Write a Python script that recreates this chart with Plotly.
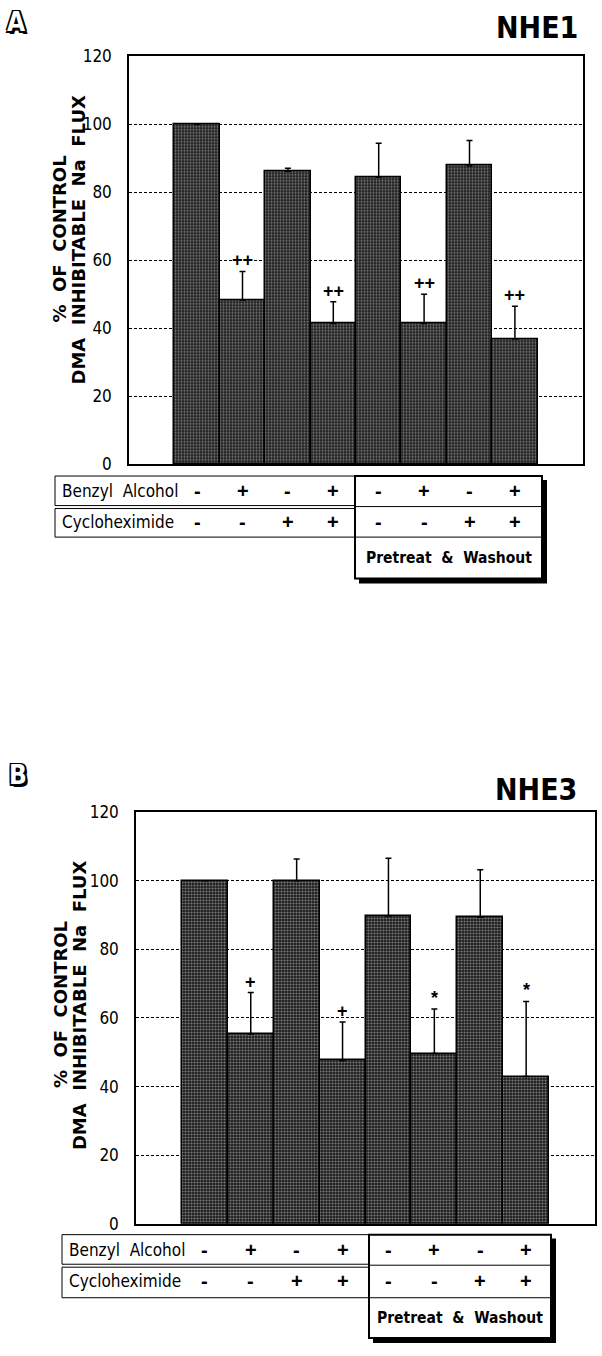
import plotly.graph_objects as go

# ---------------- data ----------------
conditions = [1, 2, 3, 4, 5, 6, 7, 8]
benzyl_alcohol = ["-", "+", "-", "+", "-", "+", "-", "+"]
cycloheximide = ["-", "-", "+", "+", "-", "-", "+", "+"]

nhe1_values = [100, 48.3, 86.2, 41.4, 84.4, 41.4, 87.8, 36.8]
nhe1_err = [0, 8.4, 0.9, 6.4, 10.0, 8.6, 7.4, 9.7]
nhe1_sig = ["", "++", "", "++", "", "++", "", "++"]

nhe3_values = [100, 55.3, 100, 47.6, 89.7, 49.6, 89.3, 42.9]
nhe3_err = [0, 12.1, 6.3, 11.2, 16.8, 13.0, 13.9, 21.9]
nhe3_sig = ["", "+", "", "+", "", "*", "", "*"]

y_ticks = [0, 20, 40, 60, 80, 100, 120]
y_title_1 = "%\u00a0\u00a0OF\u00a0\u00a0CONTROL"
y_title_2 = "DMA\u00a0\u00a0INHIBITABLE\u00a0\u00a0Na\u00a0\u00a0FLUX"

# ---------------- layout helpers ----------------
W, H = 602, 1356
NARROW = "Liberation Sans Narrow, DejaVu Sans Condensed, Liberation Sans, Arial, sans-serif"
WIDE = "DejaVu Sans, Verdana, sans-serif"
OUTLINE = ("-1.5px -1.5px 0 #000, 1.5px -1.5px 0 #000, -1.5px 1.5px 0 #000, "
           "1.5px 1.5px 0 #000, 2.5px 2.5px 0 #000, 0 2px 0 #000, 2px 0 0 #000")


def px(x):
    return x / W


def py(y):
    return 1 - y / H


panels = [
    dict(name="NHE1", letter="A", values=nhe1_values, err=nhe1_err, sig=nhe1_sig,
         xa="x", ya="y", plot=(129, 583, 47, 461),
         table=dict(left=55, split=355, right=542, top=473, mid=504, bot=535, boxbot=577),
         title_y=233, letter_pos=(16, 12), name_pos=(580, 18)),
    dict(name="NHE3", letter="B", values=nhe3_values, err=nhe3_err, sig=nhe3_sig,
         xa="x2", ya="y2", plot=(136, 595, 814, 1232),
         table=dict(left=62, split=369, right=551, top=1243, mid=1274, bot=1307, boxbot=1348),
         title_y=1010, letter_pos=(18, 776), name_pos=(579, 791)),
]

fig = go.Figure()
shapes = []
annotations = []

for i, p in enumerate(panels):
    fig.add_trace(go.Bar(
        x=conditions, y=p["values"], width=1,
        xaxis=p["xa"], yaxis=p["ya"],
        marker=dict(color="#1e1e1e", line=dict(color="black", width=1.5),
                    pattern=dict(shape=".", fgcolor="#d8d8d8", size=3, solidity=0.38)),
        error_y=dict(type="data", array=p["err"], arrayminus=[0] * len(p["err"]),
                     symmetric=False, color="black", thickness=1.5, width=3),
        showlegend=False, hoverinfo="skip",
    ))
    x0, x1, y0, y1 = p["plot"]
    sfx = "" if i == 0 else "2"
    axis_common = dict(showline=True, linecolor="black", linewidth=1.5, mirror=True)
    fig.update_layout(**{
        "xaxis" + sfx: dict(domain=[px(x0), px(x1)], range=[-0.5, 9.5], showgrid=False,
                            showticklabels=False, zeroline=False, anchor=p["ya"], fixedrange=True,
                            **axis_common),
        "yaxis" + sfx: dict(domain=[py(y1), py(y0)], range=[0, 120], tickvals=y_ticks,
                            showgrid=True, gridcolor="black", gridwidth=1, griddash="3px,2px",
                            zeroline=False, ticks="", ticklabelstandoff=12, anchor=p["xa"],
                            tickfont=dict(family=NARROW, size=17, color="black"),
                            fixedrange=True, **axis_common),
    })

    # significance marks
    for c, v, e, s in zip(conditions, p["values"], p["err"], p["sig"]):
        if s:
            annotations.append(dict(x=c, y=v + e, xref=p["xa"], yref=p["ya"], text=s,
                                    showarrow=False, yanchor="bottom", yshift=-1,
                                    font=dict(family="Liberation Sans, Arial", size=18,
                                              color="black", weight="bold")))

    # y titles (two rotated lines)
    for tx, txt in ((60, y_title_1), (79, y_title_2)):
        annotations.append(dict(x=px(tx), y=py(p["title_y"]), xref="paper", yref="paper",
                                text=txt, textangle=-90, showarrow=False,
                                xanchor="center", yanchor="middle",
                                font=dict(family=WIDE, size=18, color="black", weight="bold")))

    # panel letter (outlined)
    lx, ly = p["letter_pos"]
    annotations.append(dict(x=px(lx), y=py(ly), xref="paper", yref="paper", text=p["letter"],
                            showarrow=False, xanchor="center", yanchor="middle",
                            font=dict(family=NARROW, size=26, color="white",
                                      weight="bold", shadow=OUTLINE)))
    # isoform name
    nx, ny = p["name_pos"]
    annotations.append(dict(x=px(nx), y=py(ny), xref="paper", yref="paper", text=p["name"],
                            showarrow=False, xanchor="right", yanchor="middle",
                            font=dict(family=NARROW, size=30, color="black", weight="bold")))

    # table
    t = p["table"]
    thin = dict(color="black", width=1)
    shapes += [
        dict(type="rect", xref="paper", yref="paper", x0=px(t["left"]), x1=px(t["split"]),
             y0=py(t["top"]), y1=py(t["mid"] - 1), line=thin, fillcolor="white"),
        dict(type="rect", xref="paper", yref="paper", x0=px(t["left"]), x1=px(t["split"]),
             y0=py(t["mid"] + 2), y1=py(t["bot"]), line=thin, fillcolor="white"),
        dict(type="rect", xref="paper", yref="paper", x0=px(t["split"] + 4), x1=px(t["right"] + 5),
             y0=py(t["top"] + 4), y1=py(t["boxbot"] + 5), line=dict(width=0), fillcolor="black"),
        dict(type="rect", xref="paper", yref="paper", x0=px(t["split"]), x1=px(t["right"]),
             y0=py(t["top"]), y1=py(t["boxbot"]), line=dict(color="black", width=2),
             fillcolor="white"),
        dict(type="line", xref="paper", yref="paper", x0=px(t["split"]), x1=px(t["right"]),
             y0=py(t["mid"]), y1=py(t["mid"]), line=thin),
        dict(type="line", xref="paper", yref="paper", x0=px(t["split"]), x1=px(t["right"]),
             y0=py(t["bot"]), y1=py(t["bot"]), line=thin),
    ]
    row1_y = (t["top"] + t["mid"]) / 2
    row2_y = (t["mid"] + t["bot"]) / 2
    label_font = dict(family=NARROW, size=17, color="black")
    annotations.append(dict(x=px(t["left"] + 5), y=py(row1_y), xref="paper", yref="paper",
                            text="Benzyl\u00a0\u00a0Alcohol",
                            showarrow=False, xanchor="left", yanchor="middle", font=label_font))
    annotations.append(dict(x=px(t["left"] + 5), y=py(row2_y), xref="paper", yref="paper",
                            text="Cycloheximide", showarrow=False, xanchor="left",
                            yanchor="middle", font=label_font))
    sign_font = dict(family="Liberation Sans, Arial", size=20, color="black", weight="bold")
    for c, b, cy in zip(conditions, benzyl_alcohol, cycloheximide):
        annotations.append(dict(x=c, y=py(row1_y), xref=p["xa"], yref="paper", text=b,
                                showarrow=False, xanchor="center", yanchor="middle",
                                font=sign_font))
        annotations.append(dict(x=c, y=py(row2_y), xref=p["xa"], yref="paper", text=cy,
                                showarrow=False, xanchor="center", yanchor="middle",
                                font=sign_font))
    annotations.append(dict(x=px((t["split"] + t["right"]) / 2), y=py((t["bot"] + t["boxbot"]) / 2),
                            xref="paper", yref="paper",
                            text="Pretreat\u00a0\u00a0&\u00a0\u00a0Washout",
                            showarrow=False, xanchor="center", yanchor="middle",
                            font=dict(family=NARROW, size=15.5, color="black", weight="bold")))

fig.update_layout(
    width=W, height=H,
    margin=dict(l=0, r=0, t=0, b=0),
    paper_bgcolor="white", plot_bgcolor="white",
    shapes=shapes, annotations=annotations,
    bargap=0, showlegend=False,
)

fig.write_html("out.html")
